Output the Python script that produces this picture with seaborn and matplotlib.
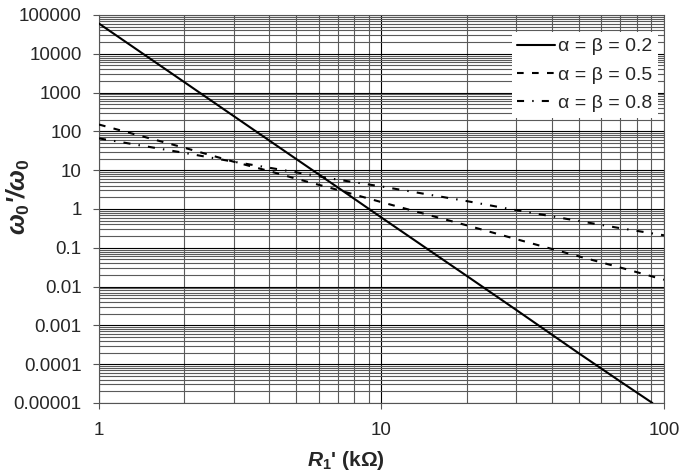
import numpy as np
import pandas as pd
import matplotlib
matplotlib.use("Agg")
import matplotlib.pyplot as plt
import matplotlib.ticker as mticker
import seaborn as sns

# values (log-log)
r_alpha02 = [1, 2, 3, 5, 7, 10, 20, 30, 50, 70, 91]
w_alpha02 = [60000, 1880, 247, 19.2, 3.6, 0.6, 0.019, 0.0025, 0.00019, 3.6e-5, 1.0e-5]

r_alpha05 = [1, 2, 3, 4, 5, 7, 10, 20, 30, 50, 70, 100]
w_alpha05 = [150, 38, 16.5, 9.5, 6.0, 3.1, 1.5, 0.38, 0.167, 0.06, 0.031, 0.015]

r_alpha08 = [1, 2, 3, 5, 7, 10, 20, 30, 50, 70, 100]
w_alpha08 = [66, 28, 16.5, 8.8, 5.7, 3.8, 1.6, 0.93, 0.49, 0.32, 0.21]

series_names = ["α = β = 0.2", "α = β = 0.5", "α = β = 0.8"]

x_ticks = [1, 10, 100]
x_tick_labels = ["1", "10", "100"]
y_ticks = [1e-5, 1e-4, 1e-3, 1e-2, 1e-1, 1, 10, 100, 1000, 10000, 100000]
y_tick_labels = ["0.00001", "0.0001", "0.001", "0.01", "0.1", "1", "10",
                 "100", "1000", "10000", "100000"]

df = pd.concat([
    pd.DataFrame({"R": r_alpha02, "w": w_alpha02, "series": series_names[0]}),
    pd.DataFrame({"R": r_alpha05, "w": w_alpha05, "series": series_names[1]}),
    pd.DataFrame({"R": r_alpha08, "w": w_alpha08, "series": series_names[2]}),
], ignore_index=True)

sns.set_style("white")
plt.rcParams["font.family"] = ["Liberation Sans", "DejaVu Sans"]
plt.rcParams["mathtext.fontset"] = "custom"
plt.rcParams["mathtext.it"] = "Liberation Sans:italic:bold"
plt.rcParams["mathtext.rm"] = "Liberation Sans:bold"
plt.rcParams["mathtext.bf"] = "Liberation Sans:bold"

fig = plt.figure(figsize=(6.81, 4.71), dpi=100)
ax = fig.add_axes([0.1454, 0.1444, 0.8296, 0.8238])

dashes = {
    series_names[0]: "",
    series_names[1]: (3.2, 4.0),
    series_names[2]: (3.4, 3.9, 0.7, 3.9),
}
sns.lineplot(data=df, x="R", y="w", style="series", dashes=dashes,
             color="black", linewidth=1.5, ax=ax, sort=False, zorder=5)

ax.set_xscale("log")
ax.set_yscale("log")
ax.set_xlim(1, 100)
ax.set_ylim(1e-5, 1e5)

ax.xaxis.set_major_locator(mticker.FixedLocator(x_ticks))
ax.xaxis.set_major_formatter(mticker.FixedFormatter(x_tick_labels))
ax.yaxis.set_major_locator(mticker.FixedLocator(y_ticks))
ax.yaxis.set_major_formatter(mticker.FixedFormatter(y_tick_labels))
ax.xaxis.set_minor_locator(mticker.LogLocator(base=10, subs=np.arange(2, 10), numticks=20))
ax.yaxis.set_minor_locator(mticker.LogLocator(base=10, subs=np.arange(2, 10), numticks=20))
ax.xaxis.set_minor_formatter(mticker.NullFormatter())
ax.yaxis.set_minor_formatter(mticker.NullFormatter())

ax.grid(True, which="major", color="black", linewidth=0.8)
ax.grid(True, which="minor", color="#5a5a5a", linewidth=0.8)
ax.set_axisbelow(True)

ax.tick_params(axis="both", which="major", direction="out", length=4.5, width=0.8,
               color="#555555", labelsize=13.5, pad=8, left=True, bottom=True)
ax.tick_params(axis="x", which="major", pad=9)
ax.tick_params(axis="both", which="minor", length=0)
for sp in ax.spines.values():
    sp.set_color("#555555")
    sp.set_linewidth(0.8)

ax.set_xlabel(r"$R_1$' (kΩ)", fontsize=15, fontweight="bold")
ax.xaxis.set_label_coords(0.437, -0.118)
ax.set_ylabel(r"$\omega_0$'/$\omega_0$", fontsize=18, fontweight="bold", style="italic")
ax.yaxis.set_label_coords(-0.118, 0.53)

handles, labels = ax.get_legend_handles_labels()
leg = ax.legend(handles, labels, loc="upper right", bbox_to_anchor=(0.99, 0.956),
                borderaxespad=0, fontsize=14, frameon=True, fancybox=False,
                edgecolor="white", framealpha=1, handlelength=1.95,
                handletextpad=0.15, labelspacing=0.55, borderpad=0.3)
leg.get_frame().set_linewidth(0)

fig.savefig("out.png", dpi=100)
